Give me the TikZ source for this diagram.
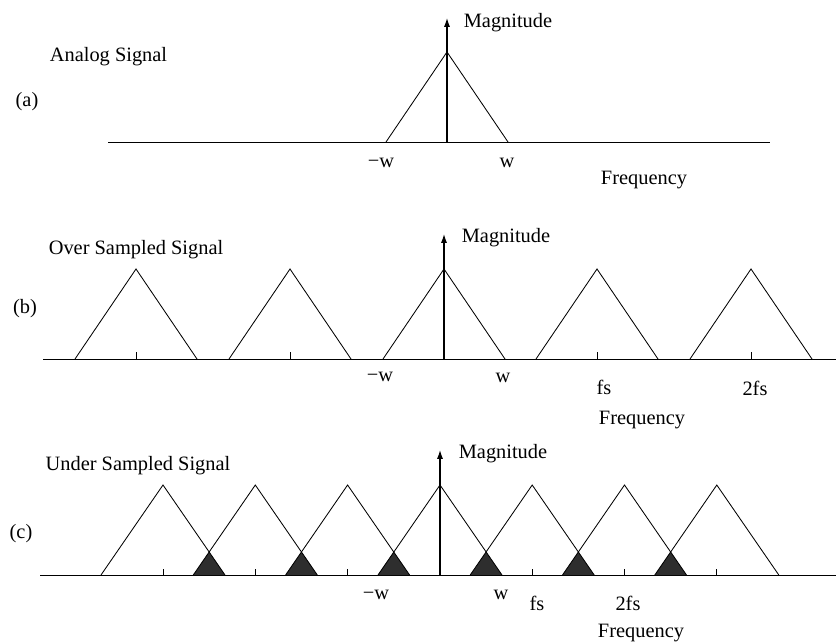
\documentclass[tikz,border=0pt]{standalone}
\usepackage{fontspec}
\setmainfont{Liberation Serif}
\usetikzlibrary{arrows.meta,positioning}
\tikzset{
  axisl/.style={line width=0.7pt},
  tri/.style={line width=0.6pt, line join=miter},
  overlap/.style={fill=black!82},
  tickm/.style={line width=0.6pt},
  marr/.style={-{Latex[length=2.2mm, width=1.5mm]}, line width=0.8pt},
  lbl/.style={font=\fontsize{14.5}{17}\selectfont, inner sep=0pt},
}

\begin{document}
\begin{tikzpicture}[x=0.025cm, y=-0.025cm]
  \useasboundingbox (0,0) rectangle (836,644);
  % (a) analog signal
  \coordinate (aL) at (108,142); \coordinate (aR) at (770,142);
  \draw[axisl] (aL) -- (aR);
  \draw[tri] (386,142) -- (447,52) -- (508,142);
  \coordinate (a0) at (447,142); \coordinate (atop) at (447,18);
  \draw[marr] (a0) -- (atop);
  \node[lbl] (amag) at (508,23) {Magnitude};
  \node[lbl] (atitle) at (108.5,57) {Analog Signal};
  \node[lbl] (alab) at (27,102) {(a)};
  \node[lbl] (amw) at (381,163) {−w};
  \node[lbl] (aw) at (507,163) {w};
  \node[lbl] (afreq) at (644,180) {Frequency};
  % (b) over sampled
  \coordinate (bL) at (43,359); \coordinate (bR) at (836,359);
  \draw[axisl] (bL) -- (bR);
  \foreach \c in {136,290,444,597,751}
    \draw[tri] ({\c-61},359) -- (\c,269) -- ({\c+61},359);
  \foreach \c in {136,290,597,751}
    \draw[tickm] (\c,359) -- (\c,352);
  \coordinate (b0) at (444,359); \coordinate (btop) at (444,234);
  \draw[marr] (b0) -- (btop);
  \node[lbl] (bmag) at (506,238) {Magnitude};
  \node[lbl] (btitle) at (136,250) {Over Sampled Signal};
  \node[lbl] (blab) at (25,309) {(b)};
  \node[lbl] (bmw) at (380,377) {−w};
  \node[lbl] (bw) at (503,378) {w};
  \node[lbl] (bfs) at (604,387) {fs};
  \node[lbl] (b2fs) at (755,388) {2fs};
  \node[lbl] (bfreq) at (642,420) {Frequency};
  % (c) under sampled
  \coordinate (cL) at (40,575); \coordinate (cR) at (836,575);
  \draw[axisl] (cL) -- (cR);
  \foreach \c in {163,255.3,347.6,440,532.2,624.5}
    \fill[overlap] ({\c+92.3-62},575) -- ({\c+46.15},552) -- ({\c+62},575) -- cycle;
  \foreach \c in {163,255.3,347.6,440,532.2,624.5,716.8}
    \draw[tri] ({\c-62},575) -- (\c,485) -- ({\c+62},575);
  \foreach \c in {163,255.3,347.6,532.2,624.5,716.8}
    \draw[tickm] (\c,575) -- (\c,569);
  \coordinate (c0) at (440,575); \coordinate (ctop) at (440,450);
  \draw[marr] (c0) -- (ctop);
  \node[lbl] (cmag) at (503,454) {Magnitude};
  \node[lbl] (ctitle) at (138,466) {Under Sampled Signal};
  \node[lbl] (clab) at (21,534) {(c)};
  \node[lbl] (cmw) at (376,595) {−w};
  \node[lbl] (cw) at (501,595) {w};
  \node[lbl] (cfs) at (537,603) {fs};
  \node[lbl] (c2fs) at (628,603) {2fs};
  \node[lbl] (cfreq) at (641,633) {Frequency};
\end{tikzpicture}
\end{document}
